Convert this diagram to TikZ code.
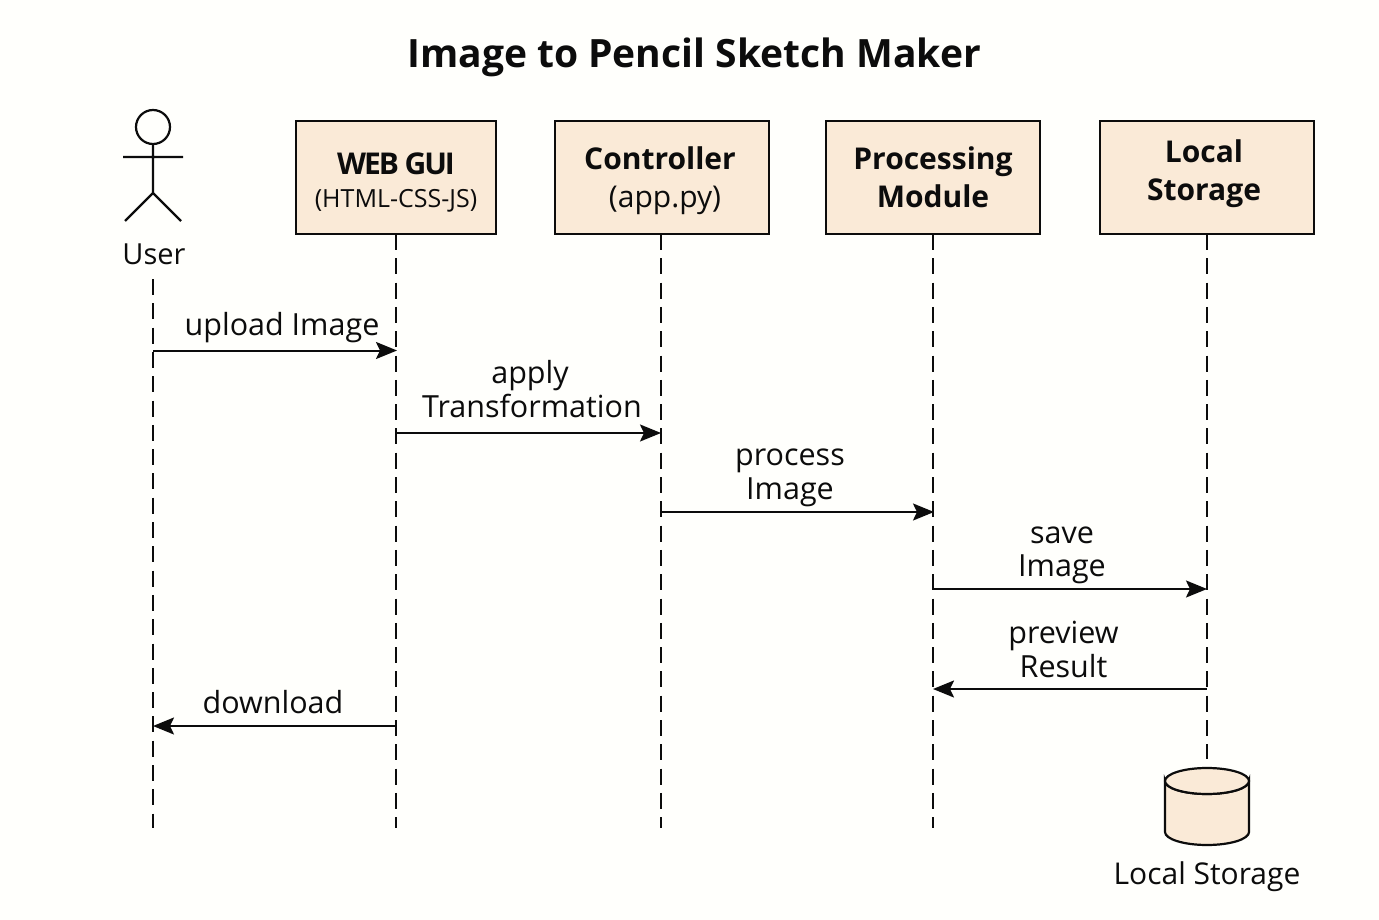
\documentclass[tikz,border=0pt]{standalone}
\usepackage{fontspec}
\setmainfont{Open Sans}
\usetikzlibrary{arrows.meta}
\definecolor{boxfill}{HTML}{FAEAD7}
\definecolor{ink}{HTML}{0C0C0C}
\tikzset{
  x=1pt,y=-1pt,
  every node/.style={text=ink,inner sep=0pt,outer sep=0pt},
  actorbox/.style={draw=ink,line width=1.9pt,fill=boxfill,anchor=north west},
  boxtext/.style={align=center,font=\fontsize{30}{38}\selectfont\bfseries},
  lifeline/.style={draw=ink,line width=1.8pt,dash pattern=on 16pt off 8.3pt},
  msg/.style={draw=ink,line width=2pt,-{Stealth[length=21pt,width=17pt,inset=4pt]}},
  msgtext/.style={align=center,font=\fontsize{30.5}{33.5}\selectfont},
  stick/.style={draw=ink,line width=2.2pt},
}
\begin{document}
\begin{tikzpicture}
\useasboundingbox (0,0) rectangle (1379,920);
\fill[white!99!yellow] (0,0) rectangle (1379,920);
\node[font=\fontsize{39}{44}\selectfont\bfseries] (title) at (694,57) {Image to Pencil Sketch Maker};

% lifeline anchors
\coordinate (ustart) at (153,279);
\coordinate (uend) at (153,828);
\node[actorbox,minimum width=200pt,minimum height=113pt] (gui) at (296,121) {};
\node[actorbox,minimum width=214pt,minimum height=113pt] (ctl) at (555,121) {};
\node[actorbox,minimum width=214pt,minimum height=113pt] (prc) at (826,121) {};
\node[actorbox,minimum width=214pt,minimum height=113pt] (sto) at (1100,121) {};
\node[font=\fontsize{30}{36}\selectfont\bfseries\addfontfeature{LetterSpace=-7}] (guia) at (396,164) {WEB GUI};
\node[font=\fontsize{25}{30}\selectfont] (guib) at (396,201) {(HTML-CSS-JS)};
\node[font=\fontsize{30}{36}\selectfont\bfseries] (ctla) at (660,158) {Controller};
\node[font=\fontsize{30}{36}\selectfont] (ctlb) at (665,200) {(app.py)};
\node[boxtext] (prct) at (933,177) {Processing\\Module};
\node[boxtext] (stot) at (1204,173.5) {Local\\Storage};

% actor
\draw[stick] (153,127) circle (17);
\draw[stick] (153,144) -- (153,193) (123,157) -- (183,157) (125,221) -- (153,193) -- (181,221);
\node[font=\fontsize{29}{34}\selectfont] (user) at (154,254) {User};

% database
\draw[draw=ink,line width=2.2pt,fill=boxfill] (1165,781) -- (1165,832) arc[start angle=180,end angle=0,x radius=42,y radius=13] -- (1249,781) arc[start angle=0,end angle=180,x radius=42,y radius=13] -- cycle;
\draw[draw=ink,line width=2.2pt,fill=boxfill] (1207,781) ellipse [x radius=42,y radius=13];
\coordinate (dbtop) at (1207,759);
\node[font=\fontsize{30}{34}\selectfont] (dbl) at (1207,877) {Local Storage};

% lifelines
\coordinate (gend) at (396,828);
\coordinate (cend) at (661,828);
\coordinate (pend) at (933,828);
\draw[lifeline] (ustart) -- (uend);
\draw[lifeline] (396,234) -- (gend);
\draw[lifeline] (661,234) -- (cend);
\draw[lifeline] (933,234) -- (pend);
\draw[lifeline] (1207,234) -- (dbtop);

% messages
\coordinate (m1a) at (153,350.5); \coordinate (m1b) at (397,350.5);
\coordinate (m2a) at (396,433); \coordinate (m2b) at (661,433);
\coordinate (m3a) at (661,512); \coordinate (m3b) at (934,512);
\coordinate (m4a) at (933,589); \coordinate (m4b) at (1207,589);
\coordinate (m5a) at (1207,689); \coordinate (m5b) at (933,689);
\coordinate (m6a) at (396,726); \coordinate (m6b) at (153,726);
\draw[msg] (m1a) -- (m1b);
\draw[msg] (m2a) -- (m2b);
\draw[msg] (m3a) -- (m3b);
\draw[msg] (m4a) -- (m4b);
\draw[msg] (m5a) -- (m5b);
\draw[msg] (m6a) -- (m6b);
\node[msgtext] (t1) at (282,328) {upload Image};
\node[msgtext] (t2a) at (530,375.5) {apply};
\node[msgtext] (t2b) at (532,406) {Transformation};
\node[msgtext] (t3) at (790,478) {process\\Image};
\node[msgtext] (t4) at (1062,555.5) {save\\Image};
\node[msgtext] (t5) at (1063.5,649.5) {preview\\Result};
\node[msgtext] (t6) at (273,702) {download};
\end{tikzpicture}
\end{document}
